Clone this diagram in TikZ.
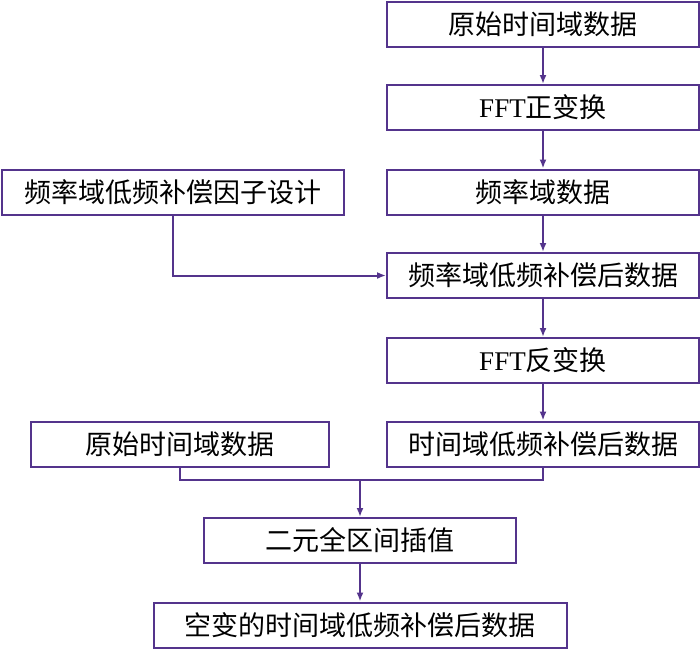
\documentclass[tikz,border=0pt]{standalone}
\usepackage{fontspec}
\setmainfont{Liberation Serif}
\newfontfamily\cjk{Noto Sans CJK SC}
\usetikzlibrary{arrows.meta}
\definecolor{boxline}{RGB}{84,52,140}
\tikzset{
  stage/.style={draw=boxline, line width=2pt, fill=white, inner sep=0pt,
    minimum height=45pt, font=\fontsize{27}{32}\selectfont\cjk},
  flow/.style={draw=boxline, line width=2pt, -{Latex[length=9pt,width=7pt]}},
  link/.style={draw=boxline, line width=2pt}
}
\begin{document}
\begin{tikzpicture}[x=1pt,y=-1pt]
\useasboundingbox (0,0) rectangle (700,649);
% main column
\node[stage, minimum width=312pt] (raw) at (543,24.5) {原始时间域数据};
\node[stage, minimum width=312pt] (fft) at (543,107.5) {{\rmfamily FFT}正变换};
\node[stage, minimum width=312pt] (freq) at (543,192) {频率域数据};
\node[stage, minimum width=312pt] (comp) at (543,275.5) {频率域低频补偿后数据};
\node[stage, minimum width=312pt] (ifft) at (543,360.5) {{\rmfamily FFT}反变换};
\node[stage, minimum width=312pt] (tcomp) at (543,444) {时间域低频补偿后数据};

% side boxes
\node[stage, minimum width=342pt] (factor) at (173,192) {频率域低频补偿因子设计};
\node[stage, minimum width=298pt] (raw2) at (180,444) {原始时间域数据};

% bottom boxes
\node[stage, minimum width=312pt] (interp) at (360,540.5) {二元全区间插值};
\node[stage, minimum width=413pt] (result) at (360,625) {空变的时间域低频补偿后数据};

% draw arrows
\draw[flow] (raw) -- (fft);
\draw[flow] (fft) -- (freq);
\draw[flow] (freq) -- (comp);
\draw[flow] (comp) -- (ifft);
\draw[flow] (ifft) -- (tcomp);
\draw[flow] (factor.south) |- (comp.west);

% draw the merge
\coordinate (merge) at (360,480);
\draw[link] (raw2.south) |- (merge) -| (tcomp.south);
\draw[flow] (merge) -- (interp.north);
\draw[flow] (interp) -- (result);
\end{tikzpicture}
\end{document}
